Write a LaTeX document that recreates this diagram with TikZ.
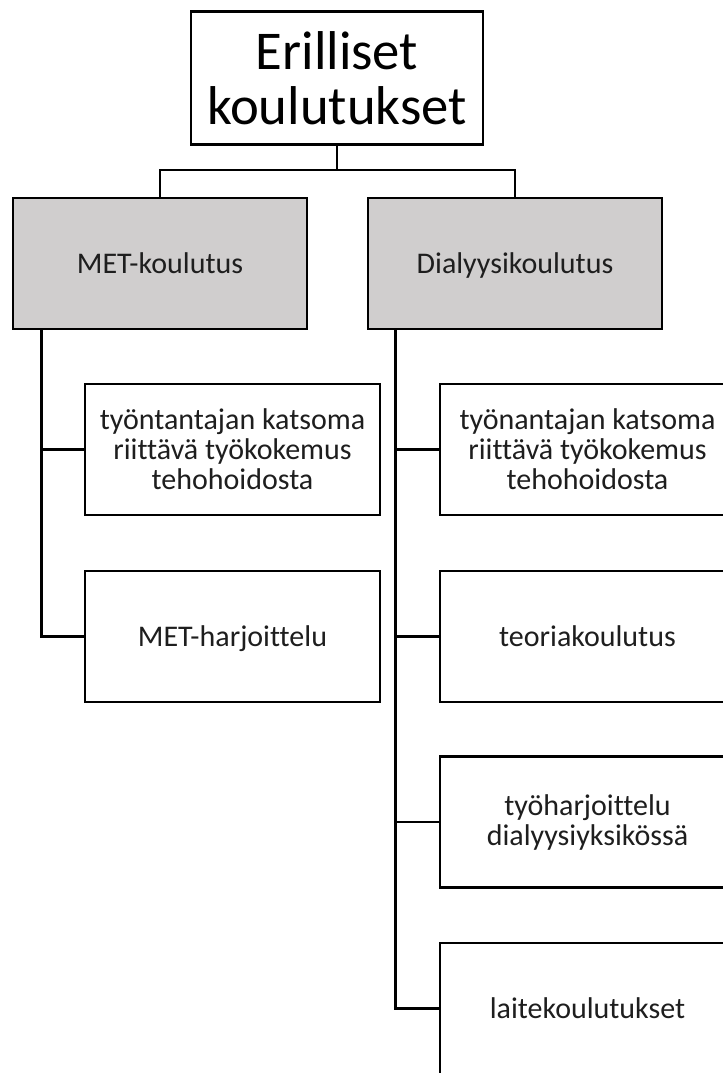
\documentclass[tikz,border=0pt]{standalone}
\usepackage{fontspec}
\setmainfont{Carlito}[Ligatures=NoCommon]
\usetikzlibrary{calc}
\definecolor{boxgray}{RGB}{208,206,206}
\definecolor{txt}{RGB}{30,30,30}
\begin{document}
\begin{tikzpicture}[x=0.75pt,y=-0.75pt,
  base/.style={draw=black,line width=2.2pt,rectangle,inner sep=0pt,align=center,text=txt,
    font=\fontsize{22.5pt}{22.5pt}\selectfont},
  oneline/.style={text height=14.5pt,text depth=0pt},
  titlebox/.style={base,minimum width=219pt,minimum height=99.75pt,text=black,
    font=\fontsize{41pt}{41pt}\selectfont},
  headbox/.style={base,oneline,fill=boxgray,minimum width=220.5pt,minimum height=98.25pt},
  childbox/.style={base,fill=white,minimum width=221.25pt,minimum height=98.25pt},
  conn/.style={draw=black,line width=2.2pt}]
\clip (0,0) rectangle (723,1073);
\fill[white] (0,0) rectangle (723,1073);

\node[titlebox] (top) at (337,78) {Erilliset\\koulutukset};
\node[headbox] (met) at (160,263.5) {MET-koulutus};
\node[headbox] (dial) at (515,263.5) {Dialyysikoulutus};

\node[childbox] (m1) at (232.5,449.5) {työntantajan katsoma\\riittävä työkokemus\\tehohoidosta};
\node[childbox,oneline] (m2) at (232.5,636.5) {MET-harjoittelu};

\node[childbox] (d1) at (587.5,449.5) {työnantajan katsoma\\riittävä työkokemus\\tehohoidosta};
\node[childbox,oneline] (d2) at (587.5,636.5) {teoriakoulutus};
\node[childbox] (d3) at (587.5,822) {työharjoittelu\\dialyysiyksikössä};
\node[childbox,oneline] (d4) at (587.5,1008.5) {laitekoulutukset};

\coordinate (bar) at (337,170);
\draw[conn] (top.south) -- (bar) -| (met.north);
\draw[conn] (bar) -| (dial.north);

\coordinate (mstem) at ($(met.south west)+(30,0)$);
\draw[conn] (mstem) |- (m1.west);
\draw[conn] (mstem) |- (m2.west);

\coordinate (dstem) at ($(dial.south west)+(29,0)$);
\draw[conn] (dstem) |- (d1.west);
\draw[conn] (dstem) |- (d2.west);
\draw[conn] (dstem) |- (d3.west);
\draw[conn] (dstem) |- (d4.west);
\end{tikzpicture}
\end{document}
